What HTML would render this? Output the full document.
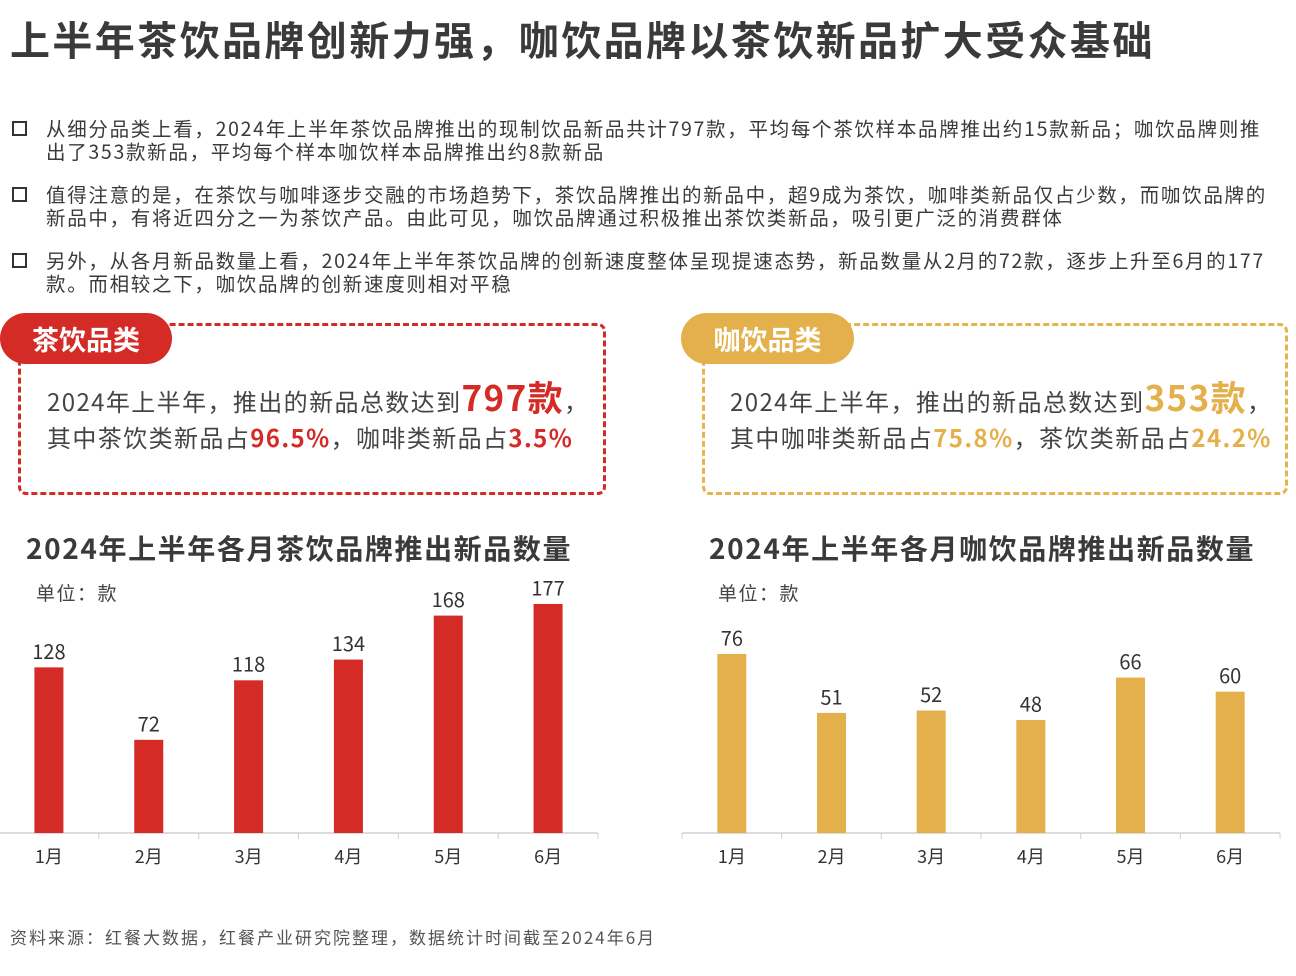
<!DOCTYPE html>
<html><head><meta charset="utf-8"><style>
body{margin:0;width:1296px;height:976px;background:#fff;position:relative;overflow:hidden;font-family:"Noto Sans CJK SC","Liberation Sans",sans-serif;color:#333}
.abs{position:absolute}
.title{left:10px;top:13px;font-size:40px;line-height:50px;font-weight:bold;color:#3a3a3a;white-space:nowrap;letter-spacing:2.4px}
.bul{left:12px;width:1282px;font-size:19.5px;line-height:23px;color:#3a3a3a;letter-spacing:1.7px;white-space:nowrap}
.bul .sq{position:absolute;left:0;top:5px;width:11px;height:11px;border:2px solid #333}
.bul .t{margin-left:34px}
.card{border:3px dashed;border-radius:8px}
.pill{border-radius:26px;color:#fff;font-weight:bold;font-size:27px;line-height:51px;text-align:center}
.ct{top:382px;line-height:36px;font-size:24px;color:#444;white-space:nowrap;letter-spacing:1.4px}
.big{font-size:35px;font-weight:bold;line-height:30px}
.pct{font-weight:bold}
.ctitle{font-size:28px;line-height:40px;font-weight:bold;color:#3a3a3a;top:528px;white-space:nowrap;letter-spacing:1.6px}
.unit{font-size:19px;line-height:26px;color:#444;top:580px;letter-spacing:1.5px}
svg text{font-family:"Noto Sans CJK SC","Liberation Sans",sans-serif}
</style></head><body>
<div class="abs title">上半年茶饮品牌创新力强，咖饮品牌以茶饮新品扩大受众基础</div>
<div class="abs bul" style="top:116px"><span class="sq"></span><div class="t">从细分品类上看，2024年上半年茶饮品牌推出的现制饮品新品共计797款，平均每个茶饮样本品牌推出约15款新品；咖饮品牌则推<br>出了353款新品，平均每个样本咖饮样本品牌推出约8款新品</div></div>
<div class="abs bul" style="top:182px"><span class="sq"></span><div class="t">值得注意的是，在茶饮与咖啡逐步交融的市场趋势下，茶饮品牌推出的新品中，超9成为茶饮，咖啡类新品仅占少数，而咖饮品牌的<br>新品中，有将近四分之一为茶饮产品。由此可见，咖饮品牌通过积极推出茶饮类新品，吸引更广泛的消费群体</div></div>
<div class="abs bul" style="top:248px"><span class="sq"></span><div class="t">另外，从各月新品数量上看，2024年上半年茶饮品牌的创新速度整体呈现提速态势，新品数量从2月的72款，逐步上升至6月的177<br>款。而相较之下，咖饮品牌的创新速度则相对平稳</div></div>

<div class="abs card" style="left:18px;top:323px;width:582px;height:166px;border-color:#d42b27"></div>
<div class="abs pill" style="left:0;top:313px;width:172px;height:51px;background:#d42b27">茶饮品类</div>
<div class="abs ct" style="left:47px">2024年上半年，推出的新品总数达到<span class="big" style="color:#d42b27">797款</span>，<br>其中茶饮类新品占<span class="pct" style="color:#d42b27">96.5%</span>，咖啡类新品占<span class="pct" style="color:#d42b27">3.5%</span></div>

<div class="abs card" style="left:702px;top:323px;width:580px;height:166px;border-color:#e6b44e"></div>
<div class="abs pill" style="left:681px;top:313px;width:173px;height:51px;background:#e3b04b">咖饮品类</div>
<div class="abs ct" style="left:730px">2024年上半年，推出的新品总数达到<span class="big" style="color:#e3b04b">353款</span>，<br>其中咖啡类新品占<span class="pct" style="color:#e3b04b">75.8%</span>，茶饮类新品占<span class="pct" style="color:#e3b04b">24.2%</span></div>

<div class="abs ctitle" style="left:26px">2024年上半年各月茶饮品牌推出新品数量</div>
<div class="abs ctitle" style="left:709px">2024年上半年各月咖饮品牌推出新品数量</div>
<div class="abs unit" style="left:36px">单位：款</div>
<div class="abs unit" style="left:718px">单位：款</div>

<svg class="abs" style="left:0;top:0" width="1296" height="976" id="charts"></svg>

<div class="abs" style="left:10px;top:925px;font-size:17px;line-height:24px;color:#555;letter-spacing:2px">资料来源：红餐大数据，红餐产业研究院整理，数据统计时间截至2024年6月</div>

<script>
const months = ["1月","2月","3月","4月","5月","6月"];
const teaValues = [128,72,118,134,168,177];
const coffeeValues = [76,51,52,48,66,60];
const svg = document.getElementById('charts');
const NS = 'http://www.w3.org/2000/svg';
function mk(tag, attrs){const e=document.createElementNS(NS,tag);for(const k in attrs)e.setAttribute(k,attrs[k]);svg.appendChild(e);return e;}
function chart(name, x0, x1, values, scale, color){
  const base = 833, n = months.length, w = (x1-x0)/n;
  const xPos = i => x0 + w*i + w/2;
  const yPos = v => base - v*scale;
  const ax = mk('line',{x1:x0,x2:x1,y1:base,y2:base,stroke:'#d0d0d0','stroke-width':1.5});
  
  
  for(let i=0;i<=n;i++){
    const t = mk('line',{x1:x0+w*i,x2:x0+w*i,y1:base,y2:base+6,stroke:'#d0d0d0','stroke-width':1});
    
    
  }
  values.forEach((v,i)=>{
    const r = mk('rect',{x:xPos(i)-14.5,y:yPos(v),width:29,height:base-yPos(v),fill:color});
    
    
    const l = mk('text',{x:xPos(i),y:yPos(v)-14,'text-anchor':'middle','font-size':20,fill:'#333','dominant-baseline':'middle'});
    l.textContent = v;
    
    
    const m = mk('text',{x:xPos(i),y:858,'text-anchor':'middle','font-size':18,fill:'#333','dominant-baseline':'middle'});
    m.textContent = months[i];
    
    
  });
}
chart('tea', -1, 598, teaValues, 1.294, '#d42b27');
chart('coffee', 682, 1280, coffeeValues, 2.355, '#e3b04b');
</script>
</body></html>
